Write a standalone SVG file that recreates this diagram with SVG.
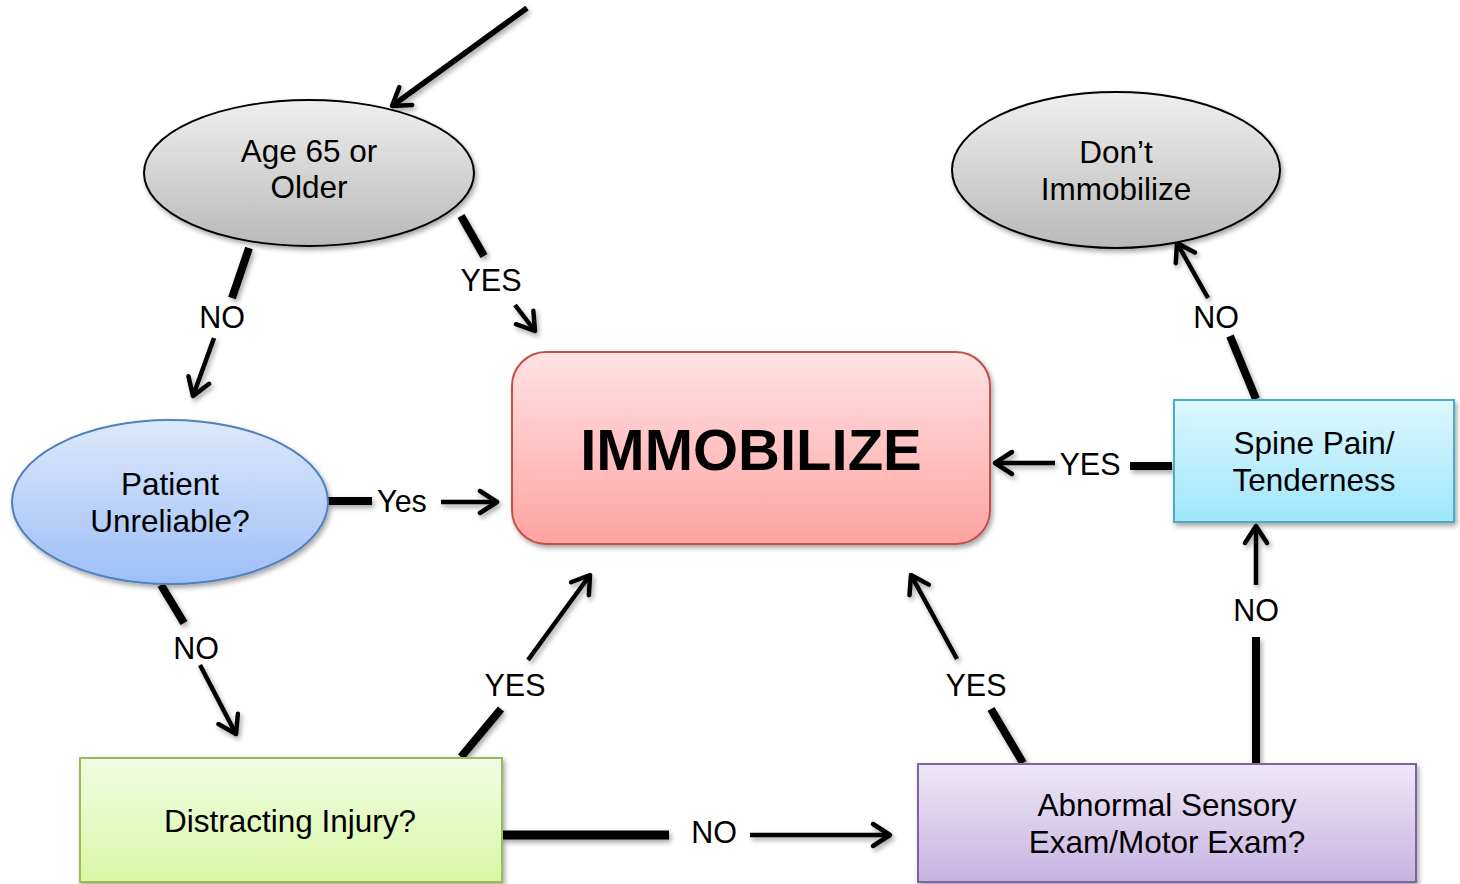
<svg xmlns="http://www.w3.org/2000/svg" width="1460" height="884" viewBox="0 0 1460 884">
<defs>
<linearGradient id="gGray" x1="0" y1="0" x2="0" y2="1"><stop offset="0" stop-color="#efefef"/><stop offset="1" stop-color="#b9b9b9"/></linearGradient>
<linearGradient id="gBlue" x1="0" y1="0" x2="0" y2="1"><stop offset="0" stop-color="#dde9fb"/><stop offset="1" stop-color="#9dbef7"/></linearGradient>
<linearGradient id="gRed" x1="0" y1="0" x2="0" y2="1"><stop offset="0" stop-color="#ffe3e3"/><stop offset="1" stop-color="#ffa3a1"/></linearGradient>
<linearGradient id="gCyan" x1="0" y1="0" x2="0" y2="1"><stop offset="0" stop-color="#def7fe"/><stop offset="1" stop-color="#9fe6fb"/></linearGradient>
<linearGradient id="gGreen" x1="0" y1="0" x2="0" y2="1"><stop offset="0" stop-color="#f1fce3"/><stop offset="1" stop-color="#d7f8a6"/></linearGradient>
<linearGradient id="gPurple" x1="0" y1="0" x2="0" y2="1"><stop offset="0" stop-color="#eee7f6"/><stop offset="1" stop-color="#c7b3e2"/></linearGradient>
<filter id="sh" filterUnits="userSpaceOnUse" x="0" y="0" width="1460" height="884"><feDropShadow dx="2" dy="3" stdDeviation="2.5" flood-color="#000" flood-opacity="0.35"/></filter>
<marker id="ah" markerUnits="userSpaceOnUse" markerWidth="40" markerHeight="40" viewBox="-25 -20 30 40" refX="0" refY="0" orient="auto">
<path d="M -17 -11 L 0 0 L -17 11" fill="none" stroke="#000" stroke-width="4.5" stroke-linecap="round" stroke-linejoin="round"/>
</marker>
</defs>
<style>
text{font-family:"Liberation Sans",Arial,sans-serif;fill:#000;text-anchor:middle}
.nt{font-size:31.5px}
.lb{font-size:30.5px}
.big{font-size:58px;font-weight:bold}
.thick{stroke:#000;stroke-width:8;fill:none}
.thin{stroke:#000;stroke-width:4.5;fill:none;marker-end:url(#ah)}
</style>

<g id="connectors">
<g filter="url(#sh)">
<line class="thin" x1="527" y1="8" x2="392" y2="106" style="stroke-width:5.5"/>
<line class="thick" x1="249" y1="248" x2="232" y2="298"/>
<line class="thin" x1="214" y1="338" x2="193" y2="396"/>
<line class="thick" x1="461" y1="216" x2="484" y2="256"/>
<line class="thin" x1="515" y1="305" x2="535" y2="331"/>
<line class="thick" x1="328" y1="501" x2="372" y2="501"/>
<line class="thin" x1="441" y1="502" x2="497" y2="502"/>
<line class="thick" x1="161" y1="585" x2="184" y2="623"/>
<line class="thin" x1="200" y1="665" x2="236" y2="734"/>
<line class="thick" x1="1256" y1="399" x2="1230" y2="336"/>
<line class="thin" x1="1208" y1="298" x2="1177" y2="243"/>
<line class="thick" x1="1172" y1="466" x2="1130" y2="466"/>
<line class="thin" x1="1055" y1="463" x2="995" y2="463"/>
<line class="thick" x1="461" y1="757" x2="501" y2="709"/>
<line class="thin" x1="528" y1="660" x2="590" y2="575"/>
<line class="thick" x1="502" y1="835" x2="669" y2="835" style="stroke-width:9"/>
<line class="thin" x1="750" y1="835" x2="890" y2="835"/>
<line class="thick" x1="1023" y1="763" x2="991" y2="709"/>
<line class="thin" x1="957" y1="659" x2="911" y2="575"/>
<line class="thick" x1="1256" y1="763" x2="1256" y2="637"/>
<line class="thin" x1="1256" y1="585" x2="1256" y2="526"/>
</g>
<text class="lb" x="222" y="328">NO</text>
<text class="lb" x="491" y="291">YES</text>
<text class="lb" x="402" y="512">Yes</text>
<text class="lb" x="196" y="659">NO</text>
<text class="lb" x="1216" y="328">NO</text>
<text class="lb" x="1090" y="475">YES</text>
<text class="lb" x="515" y="696">YES</text>
<text class="lb" x="714" y="843">NO</text>
<text class="lb" x="976" y="696">YES</text>
<text class="lb" x="1256" y="621">NO</text>
</g>

<g id="age">
<ellipse cx="309" cy="173" rx="165" ry="73" fill="url(#gGray)" stroke="#000" stroke-width="2" filter="url(#sh)"/>
<text class="nt" x="309" y="162">Age 65 or</text>
<text class="nt" x="309" y="198">Older</text>
</g>

<g id="dont">
<ellipse cx="1116" cy="170" rx="164" ry="78" fill="url(#gGray)" stroke="#000" stroke-width="2" filter="url(#sh)"/>
<text class="nt" x="1116" y="163">Don’t</text>
<text class="nt" x="1116" y="200">Immobilize</text>
</g>

<g id="patient">
<ellipse cx="170" cy="502" rx="158" ry="82" fill="url(#gBlue)" stroke="#4f81bd" stroke-width="2" filter="url(#sh)"/>
<text class="nt" x="170" y="495">Patient</text>
<text class="nt" x="170" y="532">Unreliable?</text>
</g>

<g id="immobilize">
<rect x="512" y="352" width="478" height="192" rx="34" fill="url(#gRed)" stroke="#c0504d" stroke-width="2" filter="url(#sh)"/>
<text class="big" x="751" y="470">IMMOBILIZE</text>
</g>

<g id="spine">
<rect x="1174" y="400" width="280" height="122" fill="url(#gCyan)" stroke="#4bacc6" stroke-width="2" filter="url(#sh)"/>
<text class="nt" x="1314" y="454">Spine Pain/</text>
<text class="nt" x="1314" y="491">Tenderness</text>
</g>

<g id="distracting">
<rect x="80" y="758" width="422" height="124" fill="url(#gGreen)" stroke="#9bbb59" stroke-width="2" filter="url(#sh)"/>
<text class="nt" x="290" y="832">Distracting Injury?</text>
</g>

<g id="abnormal">
<rect x="918" y="764" width="498" height="118" fill="url(#gPurple)" stroke="#8064a2" stroke-width="2" filter="url(#sh)"/>
<text class="nt" x="1167" y="816">Abnormal Sensory</text>
<text class="nt" x="1167" y="853">Exam/Motor Exam?</text>
</g>
</svg>
